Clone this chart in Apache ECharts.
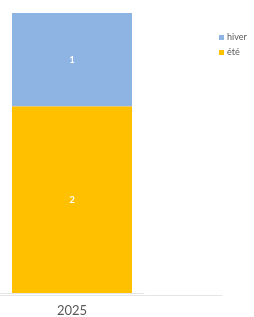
<!DOCTYPE html>
<html>
<head>
<meta charset="utf-8">
<script src="https://cdn.jsdelivr.net/npm/echarts@6/dist/echarts.min.js"></script>
<style>
html, body { margin: 0; padding: 0; background: #fff; }
#main { width: 254px; height: 317px; }
</style>
</head>
<body>
<div id="main"></div>
<script>
// données
var categories = ['2025'];
var seriesNames = ['hiver', 'été'];
var hiverData = [1];
var eteData = [2];

var myChart = echarts.init(document.getElementById('main'));
var option = {
	animation: false,
	textStyle: { fontFamily: 'Lato' },
	legend: {
		orient: 'vertical',
		left: 214,
		top: 28,
		itemWidth: 5,
		itemHeight: 5,
		itemGap: 6,
		icon: 'rect',
		textStyle: { fontSize: 9, color: '#595959', padding: [0, 0, 0, -2] },
		data: seriesNames
	},
	grid: [
		{ left: 0, width: 144, top: 13, bottom: 22 },
		{ left: 0, width: 222, top: 13, bottom: 22 }
	],
	xAxis: [{
		type: 'category',
		gridIndex: 0,
		data: categories,
		axisLine: { lineStyle: { color: '#e6e6e6' } },
		axisTick: { show: false },
		axisLabel: { fontSize: 13, color: '#595959', margin: 11 }
	}, {
		type: 'category',
		gridIndex: 1,
		data: [''],
		axisLine: { lineStyle: { color: '#e6e6e6' } },
		axisTick: { show: false },
		axisLabel: { show: false }
	}],
	yAxis: [
		{ type: 'value', gridIndex: 0, min: 0, max: 3, show: false },
		{ type: 'value', gridIndex: 1, min: 0, max: 3, show: false }
	],
	series: [{
		name: seriesNames[1],
		type: 'bar',
		stack: 'total',
		barWidth: 120,
		data: eteData,
		itemStyle: { color: '#ffc000' },
		label: { show: true, color: '#fff', fontSize: 9, fontWeight: 'bold' }
	}, {
		name: seriesNames[0],
		type: 'bar',
		stack: 'total',
		barWidth: 120,
		data: hiverData,
		itemStyle: { color: '#8eb4e3' },
		label: { show: true, color: '#fff', fontSize: 9, fontWeight: 'bold' }
	}]
};
myChart.setOption(option);
</script>
</body>
</html>
